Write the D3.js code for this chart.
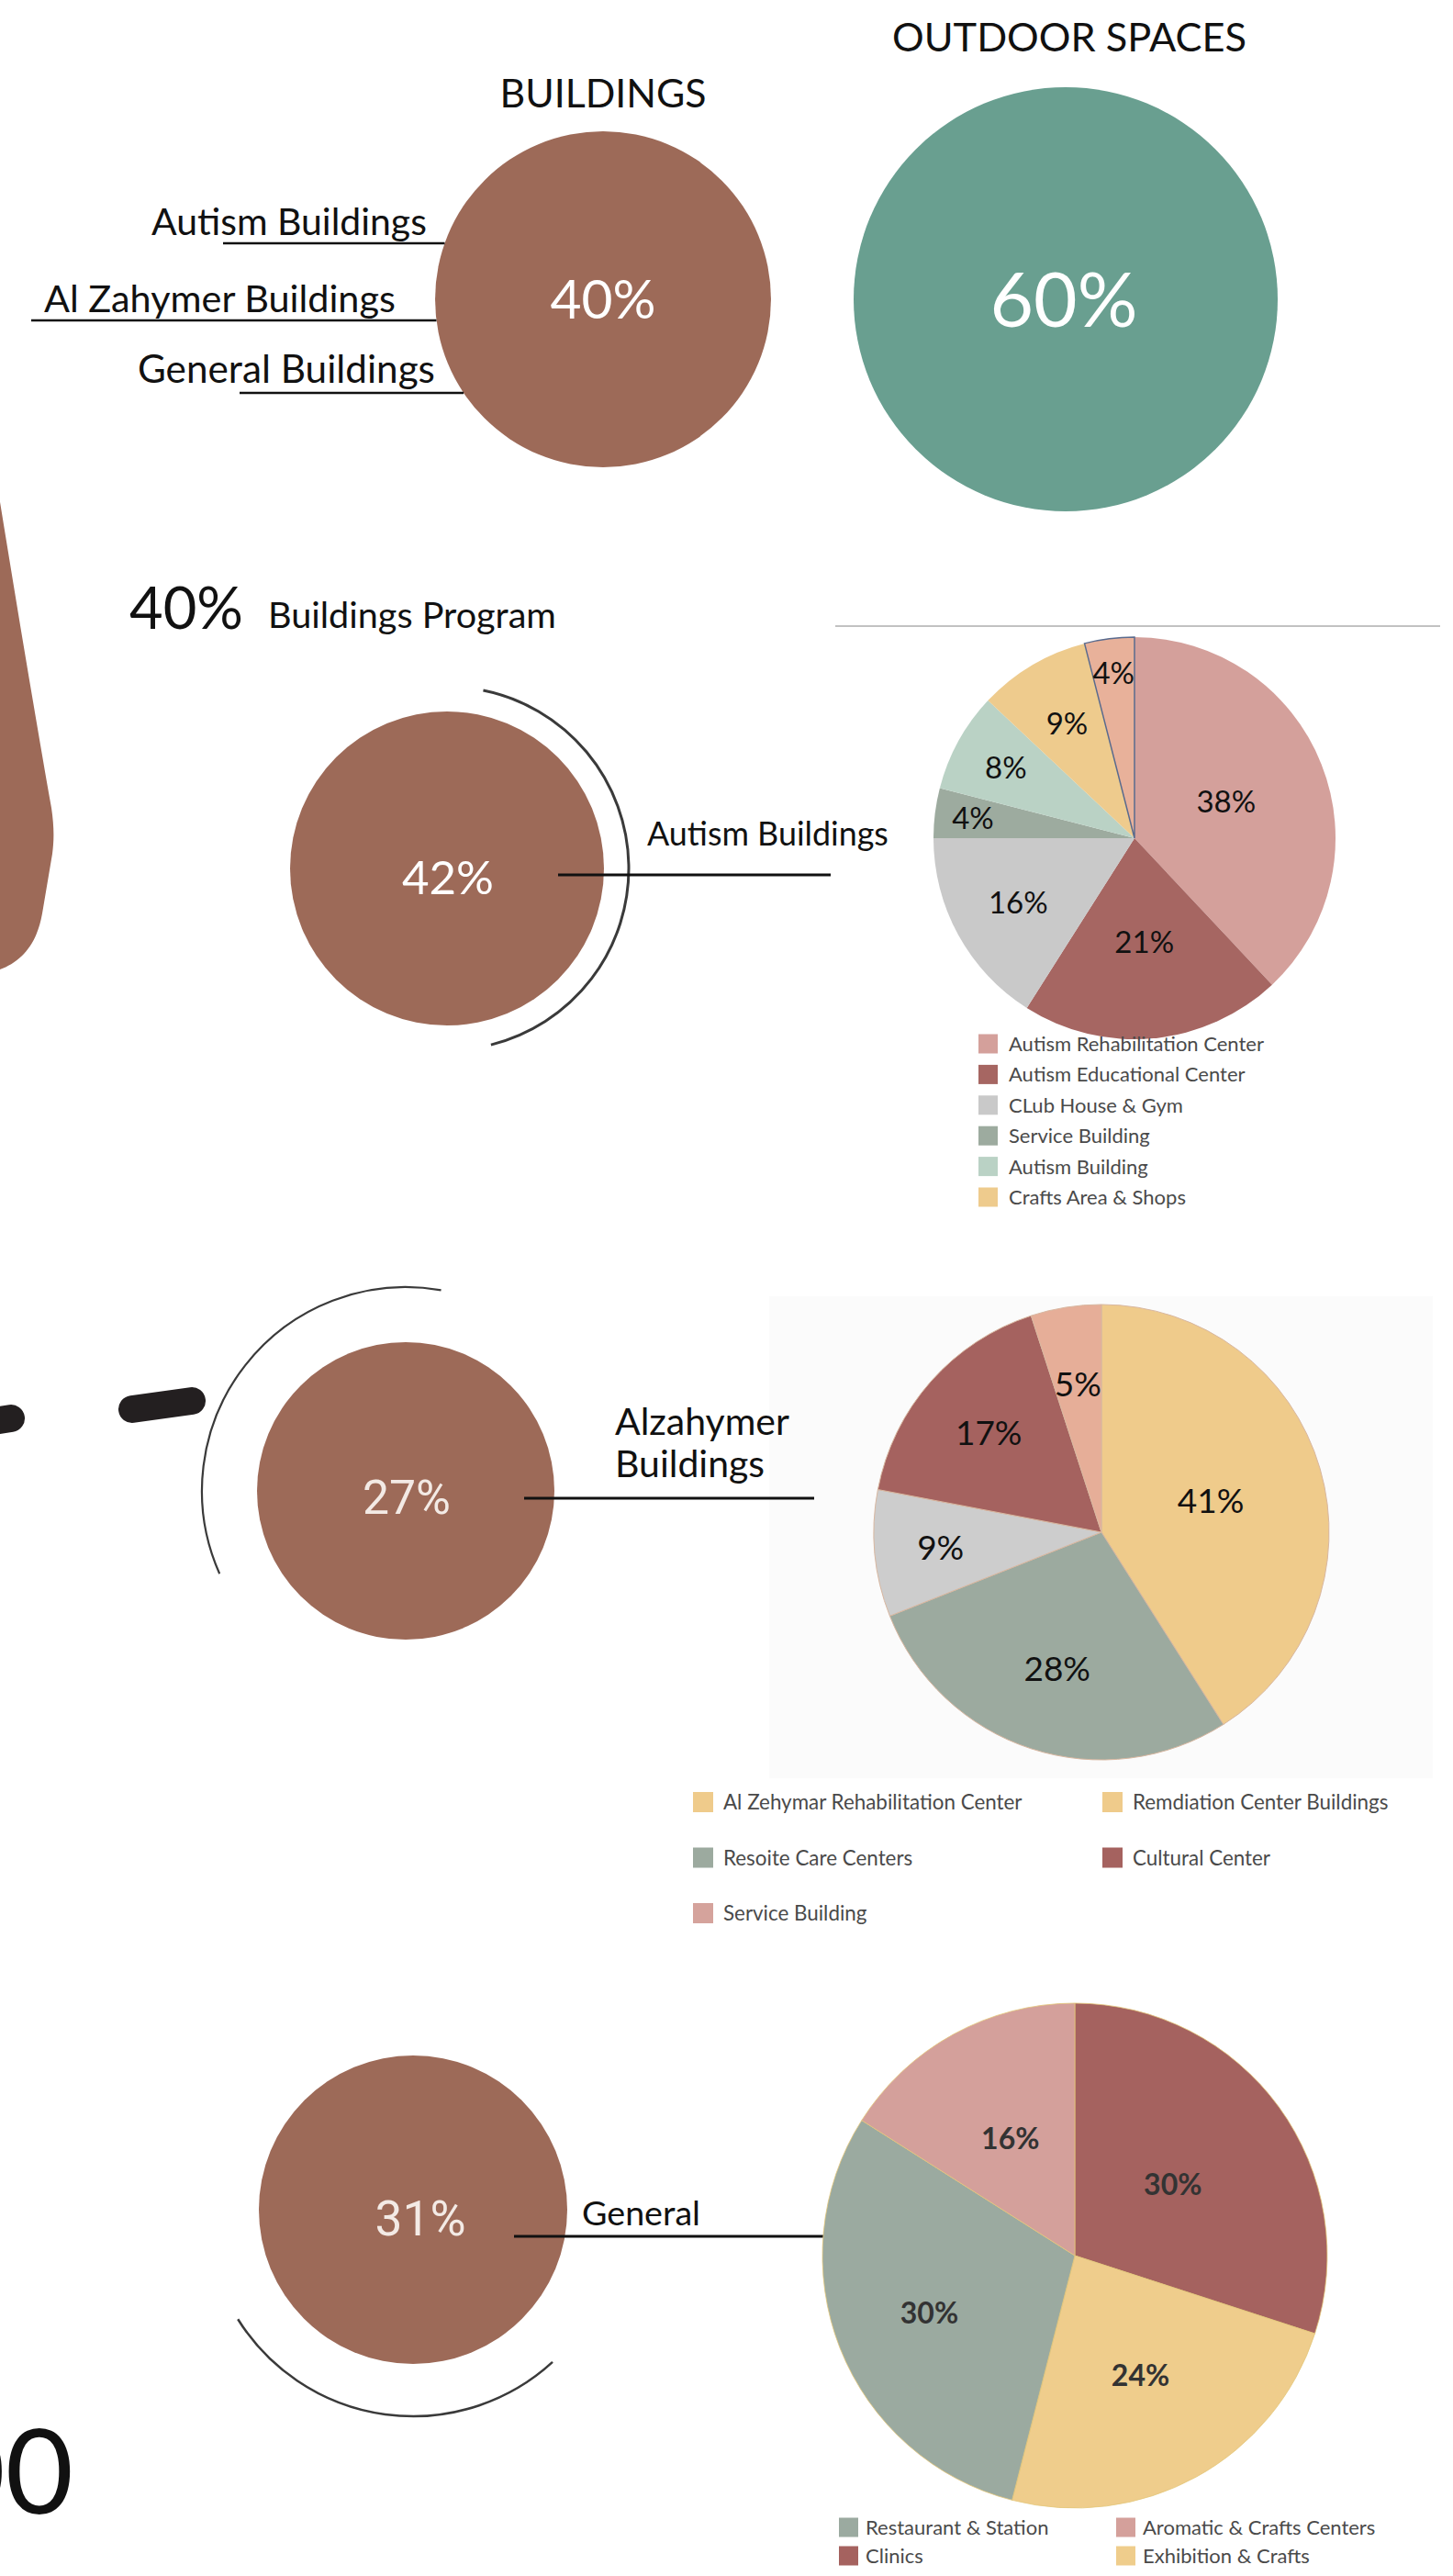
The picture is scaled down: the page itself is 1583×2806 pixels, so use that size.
<!DOCTYPE html>
<html><head><meta charset="utf-8">
<script src="https://cdn.jsdelivr.net/npm/d3@7"></script>
<style>
html,body{margin:0;padding:0;background:#fff;}
svg{display:block;}
text{font-family:Lato,"Open Sans",sans-serif;}
</style></head><body>
<svg id="chart" width="1583" height="2806"></svg>
<script>
// ================= DATA =================
const overviewCategories = ["BUILDINGS", "OUTDOOR SPACES"];
const overviewValues = [40, 60];
const buildingTypes = ["Autism Buildings", "Al Zahymer Buildings", "General Buildings"];

const programValue = 40;
const programLabel = "Buildings Program";

const groupNames = [["Autism Buildings"], ["Alzahymer", "Buildings"], ["General"]];
const groupShares = [42, 27, 31];

const autismCategories = ["Autism Rehabilitation Center", "Autism Educational Center", "CLub House & Gym", "Service Building", "Autism Building", "Crafts Area & Shops", "Other"];
const autismValues = [38, 21, 16, 4, 8, 9, 4];
const autismLegend = ["Autism Rehabilitation Center", "Autism Educational Center", "CLub House & Gym", "Service Building", "Autism Building", "Crafts Area & Shops"];

const alzCategories = ["Al Zehymar Rehabilitation Center", "Resoite Care Centers", "Remdiation Center Buildings", "Cultural Center", "Service Building"];
const alzValues = [41, 28, 9, 17, 5];
const alzLegend = ["Al Zehymar Rehabilitation Center", "Remdiation Center Buildings", "Resoite Care Centers", "Cultural Center", "Service Building"];

const generalCategories = ["Clinics", "Exhibition & Crafts", "Restaurant & Station", "Aromatic & Crafts Centers"];
const generalValues = [30, 24, 30, 16];
const generalLegend = ["Restaurant & Station", "Clinics", "Aromatic & Crafts Centers", "Exhibition & Crafts"];

const bigNumberText = "00";

// ================= STYLE / LAYOUT =================
const BROWN = "#9D6A58", GREEN = "#699F90";
const autismColors = ["#D4A09B", "#A66662", "#C9C9C9", "#9DAB9F", "#BAD2C5", "#EECB8D", "#E8B19A"];
const autismLegendColors = ["#D4A09B", "#A66662", "#C9C9C9", "#9DAB9F", "#BAD2C5", "#EECB8D"];
const alzColors = ["#EFCB8B", "#9CAA9F", "#CDCDCD", "#A5625F", "#E6AE98"];
const alzLegendColors = ["#EFCB8B", "#EFCB8B", "#9CAA9F", "#A5625F", "#D5A39C"];
const generalColors = ["#A5625F", "#EFCD8C", "#9BAAA0", "#D4A09B"];
const generalLegendColors = ["#9BAAA0", "#A5625F", "#D4A09B", "#EFCD8C"];

const svg = d3.select("#chart");
const numFont = 'Lato,sans-serif';

// scale a text's font size so that its rendered width equals a target width
function fitWidth(sel, target) {
  const w = sel.node().getComputedTextLength();
  if (w > 0) sel.attr("font-size", (+sel.attr("font-size")) * target / w);
  return sel;
}

// ---------- backgrounds & decorative shapes ----------
svg.append("rect").attr("x", 838).attr("y", 1412).attr("width", 723).attr("height", 525).attr("fill", "#fbfbfb");
svg.append("path")
  .attr("d", "M -200 420 L -4 522 C 15 640 40 790 56 880 C 59 900 59 915 57 930 L 46 995 C 40 1030 22 1048 0 1056 L -200 1100 Z")
  .attr("fill", BROWN);
svg.append("line").attr("x1", -40).attr("y1", 1553).attr("x2", 12).attr("y2", 1545)
  .attr("stroke", "#231F20").attr("stroke-width", 30).attr("stroke-linecap", "round");
svg.append("line").attr("x1", 144).attr("y1", 1535).attr("x2", 209).attr("y2", 1526)
  .attr("stroke", "#231F20").attr("stroke-width", 30).attr("stroke-linecap", "round");

// ---------- overview circles ----------
const rTop = d3.scalePow().exponent(0.575).domain([0, 60]).range([0, 231]);
const xTop = d3.scaleOrdinal().domain(overviewCategories).range([657, 1161]);
const topCY = 326;
const titleBaseline = {"BUILDINGS": 117, "OUTDOOR SPACES": 56};
const titleWidth = [225, 386];
const topFill = [BROWN, GREEN];
const topValueWidth = [115, 161];

overviewCategories.forEach((c, i) => {
  svg.append("circle").attr("cx", xTop(c)).attr("cy", topCY).attr("r", rTop(overviewValues[i])).attr("fill", topFill[i]);
  const t = svg.append("text").attr("x", xTop(c) + (i ? 4 : 0)).attr("y", titleBaseline[c]).attr("text-anchor", "middle")
    .attr("font-size", 44).attr("fill", "#111").text(c);
  fitWidth(t, titleWidth[i]);
  const v = svg.append("text").attr("x", xTop(c) + (i ? -2 : 0)).attr("y", topCY).attr("dy", "0.36em").attr("text-anchor", "middle")
    .attr("font-size", 60).attr("font-weight", 400).attr("fill", "#fff").text(overviewValues[i] + "%");
  fitWidth(v, topValueWidth[i]);
});

// labels with underlines reaching the buildings circle
const labelTextX = [165, 48, 150], labelBase = [256, 340, 417], labelWidth = [300, 383, 324];
const lineStart = [243, 34, 261], lineY = [265, 349, 428];
const rB = rTop(overviewValues[0]), cxB = xTop(overviewCategories[0]);
buildingTypes.forEach((t, i) => {
  const tx = svg.append("text").attr("x", labelTextX[i]).attr("y", labelBase[i]).attr("font-size", 40).attr("fill", "#111").text(t);
  fitWidth(tx, labelWidth[i]);
  const dy = lineY[i] - topCY;
  const xEnd = cxB - Math.sqrt(rB * rB - dy * dy);
  svg.append("line").attr("x1", lineStart[i]).attr("x2", xEnd).attr("y1", lineY[i]).attr("y2", lineY[i])
    .attr("stroke", "#111").attr("stroke-width", 2.5);
});

// ---------- headline ----------
fitWidth(svg.append("text").attr("x", 141).attr("y", 685).attr("font-size", 65).attr("fill", "#111").text(programValue + "%"), 124);
fitWidth(svg.append("text").attr("x", 292).attr("y", 684).attr("font-size", 38).attr("fill", "#111").text(programLabel), 314);
svg.append("line").attr("x1", 910).attr("x2", 1569).attr("y1", 682).attr("y2", 682).attr("stroke", "#c2c2c2").attr("stroke-width", 2);

// ---------- group circles ----------
const groups = [
  {cx: 487, cy: 946, r: 171, font: "Lato", fs: 53, vw: 100, fill: "#fff", tx: 488, tdy: 28, R: 198, a0: 11.5, a1: 166, sw: 3, lx1: 608, lx2: 905, ly: 953, labX: 705, labY: [921], labW: [263], labFs: 37},
  {cx: 442, cy: 1624, r: 162, font: "Roboto", fs: 48, vw: 96, fill: "#F3EAE5", tx: 443, tdy: 25, R: 222, a0: -114, a1: 10, sw: 2.2, lx1: 571, lx2: 887, ly: 1632, labX: 670, labY: [1563, 1609], labW: [190, 0], labFs: 40},
  {cx: 450, cy: 2407, r: 168, font: "Roboto", fs: 49, vw: 99, fill: "#F3EAE5", tx: 458, tdy: 28, R: 225, a0: 137.5, a1: 238, sw: 2.5, lx1: 560, lx2: 955, ly: 2436, labX: 634, labY: [2424], labW: [129], labFs: 38}
];
groups.forEach((g, i) => {
  svg.append("circle").attr("cx", g.cx).attr("cy", g.cy).attr("r", g.r).attr("fill", BROWN);
  const v = svg.append("text").attr("x", g.tx).attr("y", g.cy + g.tdy).attr("text-anchor", "middle")
    .style("font-family", g.font).attr("font-size", g.fs).attr("font-weight", 400).attr("fill", g.fill).text(groupShares[i] + "%");
  fitWidth(v, g.vw);
  const p = d3.path();
  const toRad = a => (a - 90) * Math.PI / 180;
  p.arc(g.cx, g.cy, g.R, toRad(g.a0), toRad(g.a1));
  svg.append("path").attr("d", p.toString()).attr("fill", "none").attr("stroke", "#3a3a3a").attr("stroke-width", g.sw);
  svg.append("line").attr("x1", g.lx1).attr("x2", g.lx2).attr("y1", g.ly).attr("y2", g.ly).attr("stroke", "#111").attr("stroke-width", 3);
  let fs0 = null;
  groupNames[i].forEach((ln, j) => {
    const t = svg.append("text").attr("x", g.labX).attr("y", g.labY[j]).attr("font-size", fs0 || g.labFs).attr("fill", "#111").text(ln);
    if (j === 0) { fitWidth(t, g.labW[0]); fs0 = +t.attr("font-size"); }
  });
});

// ---------- pies ----------
function drawPie(opts) {
  const {cats, vals, colors, cx, cy, r, labelK, fs, labelFill, labelWeight, stroke, strokeW} = opts;
  const pie = d3.pie().sort(null).value(d => d.v);
  const arcs = pie(cats.map((c, i) => ({c, v: vals[i], i})));
  const arc = d3.arc().innerRadius(0).outerRadius(r);
  const g = svg.append("g").attr("transform", `translate(${cx},${cy})`);
  g.selectAll("path.slice").data(arcs).join("path").attr("class", "slice")
    .attr("d", arc).attr("fill", d => colors[d.data.i])
    .attr("stroke", d => stroke ? stroke(d) : "none").attr("stroke-width", strokeW || 1);
  g.selectAll("text.lab").data(arcs).join("text").attr("class", "lab")
    .attr("transform", d => {
      const k = labelK[d.data.i];
      const c = d3.arc().innerRadius(0).outerRadius(2 * r * k).centroid(d);
      return `translate(${c[0]},${c[1]})`;
    })
    .attr("text-anchor", "middle").attr("dy", "0.36em")
    .style("font-family", numFont).attr("font-size", fs).attr("font-weight", labelWeight || 400)
    .attr("fill", labelFill).text(d => d.data.v + "%");
}

function drawLegend(names, colors, x0, y0, colW, rowH, nRows, sq, tOff, fs, colMajor) {
  names.forEach((n, i) => {
    const col = colMajor ? Math.floor(i / nRows) : i % 2;
    const row = colMajor ? i % nRows : Math.floor(i / 2);
    const x = x0 + col * colW, y = y0 + row * rowH;
    svg.append("rect").attr("x", x).attr("y", y - sq / 2).attr("width", sq).attr("height", sq).attr("fill", colors[i]);
    svg.append("text").attr("x", x + tOff).attr("y", y).attr("dy", "0.36em").attr("font-size", fs).attr("fill", "#4a4a4a").text(n);
  });
}

// Pie 1: Autism
drawPie({cats: autismCategories, vals: autismValues, colors: autismColors, cx: 1236, cy: 913, r: 219,
  labelK: [0.49, 0.52, 0.66, 0.81, 0.73, 0.66, 0.83], fs: 33, labelFill: "#111",
  stroke: d => d.data.i === 6 ? "#5a6b8e" : "none", strokeW: 1.5});
drawLegend(autismLegend, autismLegendColors, 1066, 1137, 0, 33.4, 6, 21, 33, 22, true);

// Pie 2: Alzahymer
drawPie({cats: alzCategories, vals: alzValues, colors: alzColors, cx: 1200, cy: 1669, r: 248,
  labelK: [0.5, 0.63, 0.71, 0.66, 0.66], fs: 37, labelFill: "#111",
  stroke: () => "#d8b7a0", strokeW: 1});
drawLegend(alzLegend, alzLegendColors, 755, 1963, 446, 60.5, 3, 22, 33, 22.4, false);

// Pie 3: General
drawPie({cats: generalCategories, vals: generalValues, colors: generalColors, cx: 1171, cy: 2457, r: 275,
  labelK: [0.48, 0.54, 0.62, 0.53], fs: 32, labelFill: "#333", labelWeight: 700,
  stroke: () => "#e3c77a", strokeW: 0.8});
drawLegend(generalLegend, generalLegendColors, 914, 2753, 302, 31, 2, 21, 29, 22, true);

// ---------- big partial number ----------
svg.append("text").attr("x", 80).attr("y", 2738).attr("text-anchor", "end").attr("font-size", 128).attr("font-weight", 400)
  .attr("fill", "#111").text(bigNumberText);
</script>
</body></html>
